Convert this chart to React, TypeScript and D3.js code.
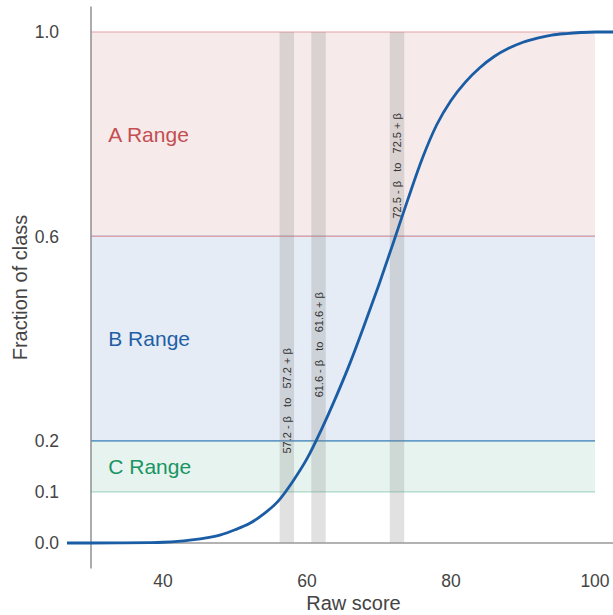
import React from "react";
import * as d3 from "d3";

// ---- data ----
const scores = [26, 30, 34, 38, 40, 42, 44, 46, 48, 50, 52, 54, 56, 58, 60, 62, 64, 66, 68, 70, 72, 74, 76, 78, 80, 82, 84, 86, 88, 90, 92, 94, 96, 98, 100, 106];
const fractions = [0, 0, 0.0002, 0.0008, 0.0015, 0.003, 0.006, 0.01, 0.016, 0.026, 0.038, 0.057, 0.082, 0.12, 0.165, 0.222, 0.285, 0.353, 0.428, 0.506, 0.588, 0.672, 0.752, 0.818, 0.866, 0.902, 0.93, 0.952, 0.968, 0.98, 0.988, 0.994, 0.997, 0.999, 1.0, 1.0];

const rangeNames = ["A Range", "B Range", "C Range"];
const rangeLow = [0.6, 0.2, 0.1];
const rangeHigh = [1.0, 0.6, 0.2];
const rangeFill = ["#f6eaea", "#e5ecf5", "#e6f3ee"];
const rangeLine = ["#e3a2a8", "#4a84c4", "#a8d8c6"];
const rangeText = ["#c44e52", "#1f5fa6", "#1a9463"];

const cutoffs = [57.2, 61.6, 72.5];
const beta = 1;
const cutoffLabelFrac = [0.175, 0.285, 0.635];

const xTicks = [40, 60, 80, 100];
const yTicks = [0.0, 0.1, 0.2, 0.6, 1.0];

export default function App() {
  const W = 613, H = 615;
  const x = d3.scaleLinear().domain([30, 100]).range([91, 595]);
  const y = d3.scaleLinear().domain([0, 1]).range([543, 32]);
  const axLeft = 67, axRight = 640, axTop = y(1.05), axBottom = y(-0.05);
  const font = "Liberation Sans, Arial, sans-serif";

  const pts = scores.map((s, i) => [s, fractions[i]] as [number, number]);
  const line = d3.line<[number, number]>().x(d => x(d[0])).y(d => y(d[1])).curve(d3.curveMonotoneX);

  return (
    <svg width={W} height={H} style={{ position: "absolute", left: 0, top: 0, background: "#fff" }} fontFamily={font}>
      <defs>
        <clipPath id="ax">
          <rect x={axLeft} y={axTop} width={axRight - axLeft} height={axBottom - axTop} />
        </clipPath>
      </defs>
      {rangeNames.map((n, i) => (
        <rect key={"f" + i} x={x(30)} width={x(100) - x(30)} y={y(rangeHigh[i])} height={y(rangeLow[i]) - y(rangeHigh[i])} fill={rangeFill[i]} />
      ))}
      {[2, 1, 0].map(i => (
        <g key={"l" + i}>
          <line x1={x(30)} x2={x(100)} y1={y(rangeHigh[i])} y2={y(rangeHigh[i])} stroke={rangeLine[i]} strokeWidth={1.2} />
          <line x1={x(30)} x2={x(100)} y1={y(rangeLow[i])} y2={y(rangeLow[i])} stroke={rangeLine[i]} strokeWidth={1.2} />
        </g>
      ))}
      {cutoffs.map((c, i) => (
        <rect key={"b" + i} x={x(c - beta)} width={x(c + beta) - x(c - beta)} y={y(1)} height={y(0) - y(1)} fill="#808080" fillOpacity={0.24} />
      ))}
      <line x1={axLeft} x2={W} y1={y(0)} y2={y(0)} stroke="#999" strokeWidth={1.6} />
      <line x1={x(30)} x2={x(30)} y1={axTop} y2={axBottom} stroke="#888" strokeWidth={1.4} />
      <path d={line(pts) || ""} fill="none" stroke="#1a5da5" strokeWidth={2.8} clipPath="url(#ax)" strokeLinejoin="round" />
      {rangeNames.map((n, i) => (
        <text key={"t" + i} x={x(32.4)} y={y((rangeLow[i] + rangeHigh[i]) / 2)} dy="0.35em" fontSize={21} fill={rangeText[i]}>{n}</text>
      ))}
      {cutoffs.map((c, i) => (
        <text key={"c" + i} transform={`translate(${x(c) + 4},${y(cutoffLabelFrac[i])}) rotate(-90)`} fontSize={11} fill="#333" style={{ whiteSpace: "pre" }}>
          {`${c} - β   to   ${c} + β`}
        </text>
      ))}
      {xTicks.map(t => (
        <text key={"x" + t} x={x(t)} y={581} dy="0.35em" textAnchor="middle" fontSize={17.5} fill="#444">{t}</text>
      ))}
      {yTicks.map(t => (
        <text key={"y" + t} x={59} y={y(t)} dy="0.35em" textAnchor="end" fontSize={17.5} fill="#444">{t.toFixed(1)}</text>
      ))}
      <text x={(axLeft + axRight) / 2} y={603} dy="0.35em" textAnchor="middle" fontSize={20} fill="#444">Raw score</text>
      <text transform={`translate(20,${(axTop + axBottom) / 2}) rotate(-90)`} dy="0.35em" textAnchor="middle" fontSize={20} fill="#444">Fraction of class</text>
    </svg>
  );
}
